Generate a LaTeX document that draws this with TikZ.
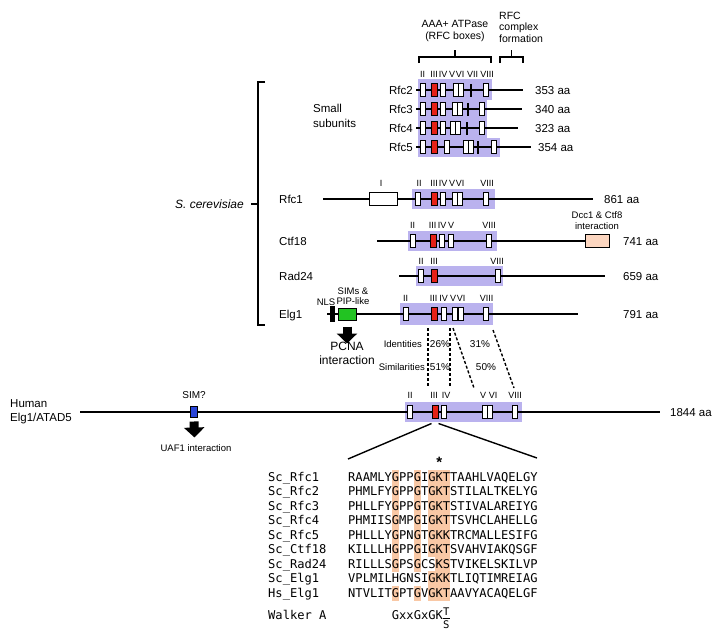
\documentclass[tikz,border=0pt]{standalone}
\usepackage{fontspec}
\setmainfont{Liberation Sans}
\newfontfamily\seqfont{DejaVu Sans Mono}
\usepackage{tikz}
\usetikzlibrary{arrows.meta,positioning,calc}
\definecolor{rfcband}{HTML}{BAB2EE}
\definecolor{rfcred}{HTML}{E62117}
\definecolor{simgreen}{HTML}{22C322}
\definecolor{simblue}{HTML}{2A45D8}
\definecolor{dccpeach}{HTML}{FCD6C0}
\definecolor{conspeach}{HTML}{F9C8A5}
\tikzset{
  backbone/.style={line width=2.8pt},
  motif/.style={rectangle, draw=black, fill=white, line width=1pt, minimum width=5pt, minimum height=13pt, inner sep=0pt},
  walker/.style={motif, fill=rfcred, minimum width=6pt},
  viibar/.style={rectangle, fill=black, minimum width=2.8pt, minimum height=13pt, inner sep=0pt},
  protbox/.style={rectangle, draw=black, line width=1pt, minimum height=13pt, inner sep=0pt},
  numeral/.style={font=\fontsize{9}{10}\selectfont, text height=6.4pt, text depth=0pt, inner sep=0pt},
  protname/.style={font=\fontsize{11.5}{13}\selectfont, text height=8.2pt, text depth=0pt, inner sep=0pt, anchor=west},
  aalen/.style={protname},
  note/.style={font=\fontsize{9.5}{10.5}\selectfont, align=center, inner sep=0pt},
  seqtext/.style={font=\seqfont\fontsize{12.1}{14}\selectfont, text height=8.8pt, text depth=0pt, inner sep=0pt, anchor=west},
  homology/.style={line width=1.4pt, dash pattern=on 3pt off 2pt},
  bigarrow/.style={line width=9pt, -{Triangle[width=20pt,length=10pt]}},
  zoomline/.style={line width=1.4pt},
}

\begin{document}
\begin{tikzpicture}[x=1pt,y=-1pt]
  \useasboundingbox (0,0) rectangle (720,640);
  % domain headers
  \node[note, font=\fontsize{10.5}{12}\selectfont] (atpase) at (455,31) {AAA+ ATPase\\(RFC boxes)};
  \node[note, font=\fontsize{10.5}{11.5}\selectfont, align=left, anchor=west] (complex) at (499,27) {RFC\\complex\\formation};
  \draw[line width=1.2pt] (419,63) -- (419,57) -- (491,57) -- (491,63) (455,57) -- (455,50);
  \draw[line width=1.2pt] (500,63) -- (500,57) -- (523,57) -- (523,63) (511.5,57) -- (511.5,50);

  % yeast bracket
  \draw[line width=1.4pt] (265,82) -- (258,82) -- (258,325) -- (265,325) (258,204) -- (251,204);
  \node[protname, font=\fontsize{12}{14}\selectfont\itshape, anchor=east] (scer) at (244,204) {S. cerevisiae};
  \node[note, font=\fontsize{11.5}{15}\selectfont, align=left, anchor=west] (small) at (313,115.5) {Small\\subunits};

  % small subunits
  \fill[rfcband] (418,79) rectangle (492,100);
  \fill[rfcband] (418,99.5) rectangle (487,138.5);
  \fill[rfcband] (418,138) rectangle (500,157);

  \draw[backbone] (416,90) -- (523,90);
  \node[protname, anchor=east] (rfc2) at (413,90) {Rfc2};
  \foreach \x [count=\k] in {423,443,456,461,486} \node[motif] (rfc2m\k) at (\x,90) {};
  \node[walker] (rfc2w) at (434,90) {};
  \node[viibar] (rfc2v) at (471,90) {};
  \node[aalen] (rfc2aa) at (535,90) {353 aa};
  \foreach \x/\t in {422.5/II,434/III,443/IV,452/V,460/VI,472.5/VII,487/VIII} \node[numeral] (rfc2n\t) at (\x,74) {\t};

  \draw[backbone] (416,109) -- (522,109);
  \node[protname, anchor=east] (rfc3) at (413,109) {Rfc3};
  \foreach \x [count=\k] in {423,443,455,460,482} \node[motif] (rfc3m\k) at (\x,109) {};
  \node[walker] (rfc3w) at (434,109) {};
  \node[viibar] (rfc3v) at (468,109) {};
  \node[aalen] (rfc3aa) at (535,109) {340 aa};

  \draw[backbone] (416,128) -- (518,128);
  \node[protname, anchor=east] (rfc4) at (413,128) {Rfc4};
  \foreach \x [count=\k] in {423,443,453,458,482} \node[motif] (rfc4m\k) at (\x,128) {};
  \node[walker] (rfc4w) at (434,128) {};
  \node[viibar] (rfc4v) at (467,128) {};
  \node[aalen] (rfc4aa) at (535,128) {323 aa};

  \draw[backbone] (416,147) -- (531,147);
  \node[protname, anchor=east] (rfc5) at (413,147) {Rfc5};
  \foreach \x [count=\k] in {423,447,466,471,494} \node[motif] (rfc5m\k) at (\x,147) {};
  \node[walker] (rfc5w) at (434,147) {};
  \node[viibar] (rfc5v) at (478,147) {};
  \node[aalen] (rfc5aa) at (538,147) {354 aa};

  % Rfc1
  \fill[rfcband] (412,189) rectangle (495,209);
  \draw[backbone] (323,199) -- (593,199);
  \node[protname] (rfc1) at (279,199) {Rfc1};
  \node[protbox, fill=white, minimum width=28pt] (rfc1box) at (383,199) {};
  \foreach \x [count=\k] in {418,443,455,460,486} \node[motif] (rfc1m\k) at (\x,199) {};
  \node[walker] (rfc1w) at (434,199) {};
  \node[aalen] (rfc1aa) at (604,199) {861 aa};
  \foreach \x/\t in {381/I,419/II,434/III,443/IV,452/V,460/VI,487/VIII} \node[numeral] (rfc1n\t) at (\x,183) {\t};

  % Ctf18
  \fill[rfcband] (408,231) rectangle (497,251);
  \draw[backbone] (377,241) -- (586,241);
  \node[protname] (ctf18) at (279,241) {Ctf18};
  \foreach \x [count=\k] in {413,442,451,489} \node[motif] (ctf18m\k) at (\x,241) {};
  \node[walker] (ctf18w) at (433,241) {};
  \node[protbox, fill=dccpeach, minimum width=24pt] (dccbox) at (597,241) {};
  \node[aalen] (ctf18aa) at (623,241) {741 aa};
  \node[note] (dcc) at (597,220.5) {Dcc1 \& Ctf8\\interaction};
  \foreach \x/\t in {412.5/II,432.5/III,442/IV,451/V,489/VIII} \node[numeral] (ctf18n\t) at (\x,225) {\t};

  % Rad24
  \fill[rfcband] (416,266) rectangle (503,286);
  \draw[backbone] (399,276) -- (605,276);
  \node[protname] (rad24) at (279,276) {Rad24};
  \foreach \x [count=\k] in {421,498} \node[motif] (rad24m\k) at (\x,276) {};
  \node[walker] (rad24w) at (434,276) {};
  \node[aalen] (rad24aa) at (623,276) {659 aa};
  \foreach \x/\t in {421/II,434/III,497/VIII} \node[numeral] (rad24n\t) at (\x,261) {\t};

  % Elg1
  \fill[rfcband] (400,303) rectangle (493,325);
  \draw[backbone] (327,314) -- (578,314);
  \node[protname] (elg1) at (279,314) {Elg1};
  \node[rectangle, fill=black, minimum width=5pt, minimum height=16pt, inner sep=0pt] (nls) at (332.5,314) {};
  \node[protbox, fill=simgreen, minimum width=18pt, minimum height=12pt] (sims) at (347,314) {};
  \foreach \x [count=\k] in {406,444,455,461,486} \node[motif] (elg1m\k) at (\x,314) {};
  \node[walker] (elg1w) at (434,314) {};
  \node[aalen] (elg1aa) at (623,314) {791 aa};
  \foreach \x/\t in {405.5/II,433.5/III,443.5/IV,453/V,461/VI,486.5/VIII} \node[numeral] (elg1n\t) at (\x,298) {\t};
  \node[note] (nlslabel) at (326,302) {NLS};
  \node[note] (simslabel) at (353,296) {SIMs \&\\PIP-like};
  \coordinate (pcnatip) at (347,343.5);
  \draw[bigarrow] (sims.south) ++(0,6) -- (pcnatip);
  \node[note, font=\fontsize{12}{14}\selectfont] (pcna) at (347,353) {PCNA\\interaction};

  % conservation
  \node[note, anchor=east] (ident) at (422,344) {Identities};
  \node[note, anchor=east] (simil) at (425,367) {Similarities};
  \node[note, font=\fontsize{10}{11}\selectfont] (id26) at (440,344) {26\%};
  \node[note, font=\fontsize{10}{11}\selectfont] (id31) at (480,344) {31\%};
  \node[note, font=\fontsize{10}{11}\selectfont] (si51) at (440,367) {51\%};
  \node[note, font=\fontsize{10}{11}\selectfont] (si50) at (486,367) {50\%};
  \coordinate (yIII) at (428,328); \coordinate (hIII) at (428,387);
  \coordinate (yIV) at (450,328);  \coordinate (hIV) at (450,387);
  \coordinate (yV) at (453,328);   \coordinate (hV) at (474,388);
  \coordinate (yVIII) at (493,330); \coordinate (hVIII) at (514,388);
  \draw[homology] (yIII) -- (hIII);
  \draw[homology] (yIV) -- (hIV);
  \draw[homology] (yV) -- (hV);
  \draw[homology] (yVIII) -- (hVIII);

  % human Elg1/ATAD5
  \fill[rfcband] (405,402) rectangle (522,422);
  \draw[backbone] (80,412) -- (660,412);
  \node[note, font=\fontsize{11.5}{13.5}\selectfont, align=left, anchor=west] (human) at (10,411.5) {Human\\Elg1/ATAD5};
  \foreach \x [count=\k] in {410,444,485,490,515} \node[motif] (hsm\k) at (\x,412) {};
  \node[walker] (hsw) at (435,412) {};
  \node[aalen] (hsaa) at (670,412) {1844 aa};
  \foreach \x/\t in {410/II,434/III,446/IV,483/V,493/VI,515/VIII} \node[numeral] (hsn\t) at (\x,395) {\t};
  \node[protbox, fill=simblue, minimum width=6.5pt, minimum height=11pt] (hsim) at (194,411.5) {};
  \node[note, font=\fontsize{10}{11}\selectfont] (simq) at (194,395) {SIM?};
  \coordinate (uaftip) at (194.5,437.5);
  \draw[bigarrow] (hsim.south) ++(0,4) -- (uaftip);
  \node[note] (uaf1) at (196,448) {UAF1 interaction};

  % zoom into box III
  \coordinate (zoomL) at (348,459);
  \coordinate (zoomR) at (537,458);
  \draw[zoomline] ($(hsw.south west)+(0,4.5)$) -- (zoomL);
  \draw[zoomline] ($(hsw.south east)+(0,4.5)$) -- (zoomR);

  % alignment
  \foreach \r in {0,1,2,3,4,5,8}
    \foreach \c in {6,9,11,12,13}
      \fill[conspeach] ({348+7.285*\c},{469.75+14.5*\r}) rectangle +(7.6,14.8);
  \foreach \r/\c in {6/6,6/9,6/12,6/13,7/11,7/12,7/13}
    \fill[conspeach] ({348+7.285*\c},{469.75+14.5*\r}) rectangle +(7.6,14.8);
  \node[font=\fontsize{15}{15}\selectfont\bfseries, inner sep=0pt] (star) at (439.3,462) {*};
  \foreach \nm/\sq [count=\i from 0] in {Sc\_Rfc1/RAAMLYGPPGIGKTTAAHLVAQELGY,Sc\_Rfc2/PHMLFYGPPGTGKTSTILALTKELYG,Sc\_Rfc3/PHLLFYGPPGTGKTSTIVALAREIYG,Sc\_Rfc4/PHMIISGMPGIGKTTSVHCLAHELLG,Sc\_Rfc5/PHLLLYGPNGTGKKTRCMALLESIFG,Sc\_Ctf18/KILLLHGPPGIGKTSVAHVIAKQSGF,Sc\_Rad24/RILLLSGPSGCSKSTVIKELSKILVP,Sc\_Elg1/VPLMILHGNSIGKKTLIQTIMREIAG,Hs\_Elg1/NTVLITGPTGVGKTAAVYACAQELGF} {
    \node[seqtext] (name\i) at (268,{477+14.5*\i}) {\nm};
    \node[seqtext] (seq\i) at (348,{477+14.5*\i}) {\sq};
  }
  \node[seqtext] (walkera) at (268,615) {Walker A};
  \node[seqtext] (motifa) at ({348+7.285*6},615) {GxxGxGK};
  \node[seqtext, anchor=center, font=\seqfont\fontsize{10.5}{12}\selectfont, text height=7.6pt] (motifT) at ({348+7.285*13.5},612) {T};
  \node[seqtext, anchor=center, font=\seqfont\fontsize{10.5}{12}\selectfont, text height=7.6pt] (motifS) at ({348+7.285*13.5},624.5) {S};
  \draw[line width=0.7pt] ($(motifT.south west)+(0,2.5)$) -- ($(motifT.south east)+(0,2.5)$);
\end{tikzpicture}
\end{document}
